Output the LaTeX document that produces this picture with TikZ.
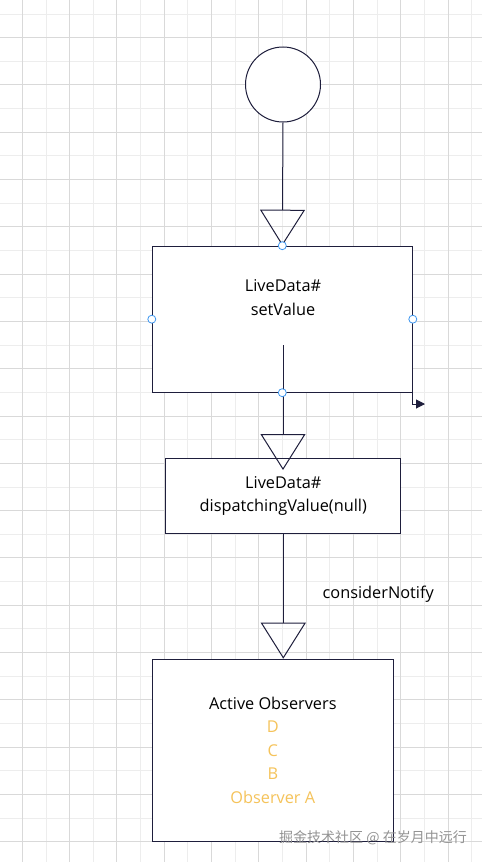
\documentclass[tikz,border=0pt]{standalone}
\usepackage{fontspec}
\setmainfont{Open Sans}
\newfontfamily\cjkfont{Noto Sans CJK SC}
\usepackage{xcolor}
\usepackage{tikz}
\usetikzlibrary{arrows.meta,positioning}

\definecolor{inkline}{HTML}{1E1E3C}
\definecolor{portblue}{HTML}{3C96F0}
\definecolor{obsgold}{HTML}{F5C35A}
\definecolor{gridmajor}{HTML}{D9D9D9}
\definecolor{gridminor}{HTML}{EDEDED}

\begin{document}
\begin{tikzpicture}[x=1pt,y=-1pt,
  box/.style={draw=inkline,line width=1pt,fill=white,align=center,
              inner sep=0pt,font=\fontsize{16.3}{23.6}\selectfont},
  port/.style={circle,draw=portblue,fill=white,line width=0.8pt,
               minimum size=8pt,inner sep=0pt},
  edge/.style={draw=inkline,line width=1pt,
               -{Triangle[open,length=36pt,width=45pt,line width=1pt]}},
  smalledge/.style={draw=inkline,line width=1pt,-{Triangle[length=9pt,width=9pt]}}]
\useasboundingbox (0,0) rectangle (482,862);
\fill[white] (0,0) rectangle (482,862);
% grid
\foreach \gx in {46,93.3,...,482} \draw[gridminor,line width=1pt] (\gx,0) -- (\gx,862);
\foreach \gy in {14,61.3,...,862} \draw[gridminor,line width=1pt] (0,\gy) -- (482,\gy);
\foreach \gx in {22.3,69.6,...,482} \draw[gridmajor,line width=1pt] (\gx,0) -- (\gx,862);
\foreach \gy in {37.6,84.9,...,862} \draw[gridmajor,line width=1pt] (0,\gy) -- (482,\gy);

\node[circle,draw=inkline,line width=1pt,fill=white,minimum size=75pt,inner sep=0pt]
  (start) at (283,84.5) {};
\node[box,minimum width=260pt,minimum height=146pt] (setvalue) at (282.3,319.2) {};
\node[font=\fontsize{16.3}{23.6}\selectfont,align=center] (setlabel) at (283,297.5)
  {LiveData\#\\setValue};
\node[box,minimum width=235pt,minimum height=75pt] (dispatch) at (283.3,495.8)
  {LiveData\#\\dispatchingValue(null)};
\node[box,minimum width=241pt,minimum height=182pt] (observers) at (272.8,750.2)
  {Active Observers\\\textcolor{obsgold}{D}\\\textcolor{obsgold}{C}\\
   \textcolor{obsgold}{B}\\\textcolor{obsgold}{Observer A}};
\node[anchor=west,font=\fontsize{16.3}{18}\selectfont,inner sep=0pt] (notify)
  at (322.5,594) {considerNotify};

\coordinate (inner) at (283,345);
\coordinate (dispatchtip) at (283,470);
\coordinate (cornertip) at (425,404);

\draw[edge] (start.south) -- (setvalue.north);
\draw[edge] (inner) -- (dispatchtip);
\draw[edge] (dispatch.south) -- (dispatch.south |- observers.north);
\draw[smalledge] (setvalue.south east) |- (cornertip);

\node[port] (portn) at (setvalue.north) {};
\node[port] (portw) at (setvalue.west) {};
\node[port] (porte) at (setvalue.east) {};
\node[port] (ports) at (setvalue.south) {};

\node[font=\cjkfont\fontsize{14}{18}\selectfont,text=gray!85] (mark) at (373,838)
  {掘金技术社区 @ 在岁月中远行};
\end{tikzpicture}
\end{document}
